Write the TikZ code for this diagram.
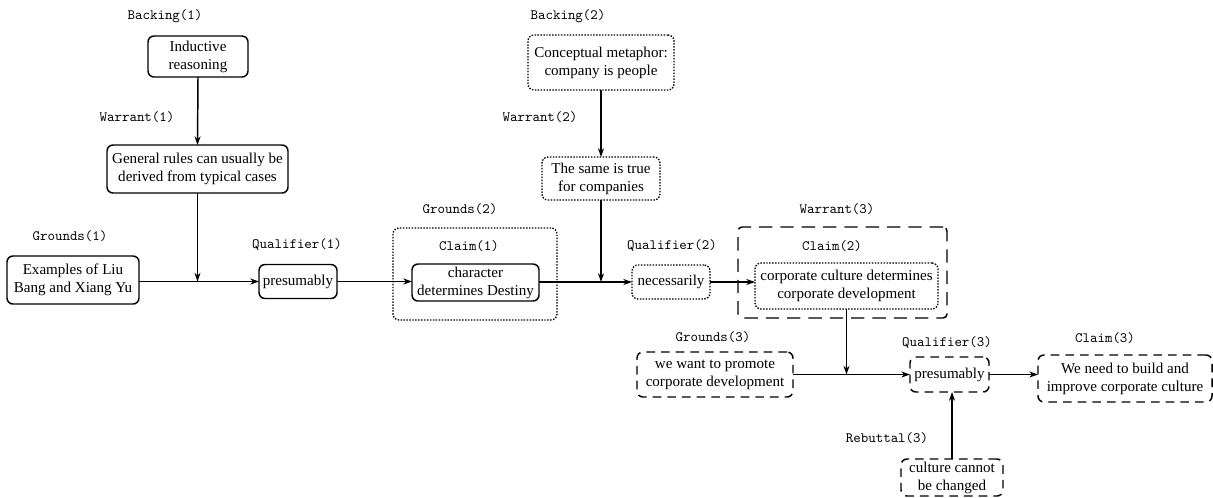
\documentclass[tikz,border=0pt]{standalone}
\usepackage{fontspec}
\setmainfont{Liberation Serif}
\usetikzlibrary{arrows.meta}
\begin{document}
\begin{tikzpicture}[x=0.75pt,y=-0.75pt,
  every node/.style={inner sep=0pt, outer sep=0pt},
  bx/.style 2 args={minimum width=#1*0.75pt, minimum height=#2*0.75pt},
  lbl/.style={font=\ttfamily\fontsize{10.7}{12}\selectfont},
  txt/.style={align=center, font=\fontsize{11.3}{13.6}\selectfont},
  solidbox/.style={txt, draw, line width=1.1pt, rounded corners=4.5pt},
  dotbox/.style={txt, draw, line width=1pt, rounded corners=4.5pt, dash pattern=on 1.1pt off 1.1pt},
  dashbox/.style={txt, draw, line width=1.1pt, rounded corners=4.5pt, dash pattern=on 6.5pt off 4.5pt},
  longdashbox/.style={draw, line width=1.1pt, rounded corners=3pt, dash pattern=on 10pt off 6pt},
  link/.style={line width=1.1pt, -{Stealth[length=6.5pt,width=4.5pt]}},
]
\useasboundingbox (0,0) rectangle (1213,497);

% ---- chain 1 ----
\node[solidbox, bx={100}{41}] (ind) at (198,56.5) {Inductive\\reasoning};
\node[solidbox, bx={181}{48}] (gen) at (197.5,169) {General rules can usually be\\derived from typical cases};
\node[solidbox, bx={132}{48}] (ex) at (73,280) {Examples of Liu\\Bang and Xiang Yu};
\node[solidbox, bx={78}{34}] (pre1) at (298,281.5) {presumably};
\node[dotbox, bx={164}{92}] (g2) at (475,274) {};
\node[solidbox, bx={127}{37}] (char) at (475.5,282.5) {character\\determines Destiny};

% ---- chain 2 ----
\node[dotbox, bx={146}{55}] (con) at (601,62.5) {Conceptual metaphor:\\company is people};
\node[dotbox, bx={118}{43}] (same) at (601,178.5) {The same is true\\for companies};
\node[dotbox, bx={78}{34}] (nec) at (671,282) {necessarily};
\node[longdashbox, bx={209}{91}] (w3) at (842.5,272.5) {};
\node[dotbox, bx={183}{46}] (cc) at (846.5,286) {corporate culture determines\\corporate development};

% ---- chain 3 ----
\node[dashbox, bx={156}{45}] (want) at (715,374.5) {we want to promote\\corporate development};
\node[dashbox, bx={79}{35}] (pre3) at (949.5,374.5) {presumably};
\node[dashbox, bx={174}{47}] (cl3) at (1125,378.5) {We need to build and\\improve corporate culture};
\node[dashbox, bx={102}{37}] (reb) at (952,477.5) {culture cannot\\be changed};

% ---- role labels ----
\node[lbl] (lbBack1) at (165,16) {Backing(1)};
\node[lbl] (lbWar1) at (137,117) {Warrant(1)};
\node[lbl] (lbGr1) at (70,236) {Grounds(1)};
\node[lbl] (lbQu1) at (297,245) {Qualifier(1)};
\node[lbl] (lbGr2) at (460,209) {Grounds(2)};
\node[lbl] (lbCl1) at (469,246) {Claim(1)};
\node[lbl] (lbBack2) at (568,16) {Backing(2)};
\node[lbl] (lbWar2) at (540,117) {Warrant(2)};
\node[lbl] (lbQu2) at (672,246) {Qualifier(2)};
\node[lbl] (lbWar3) at (837,209) {Warrant(3)};
\node[lbl] (lbCl2) at (832,246) {Claim(2)};
\node[lbl] (lbGr3) at (713,337) {Grounds(3)};
\node[lbl] (lbQu3) at (947,343) {Qualifier(3)};
\node[lbl] (lbCl3) at (1105,338) {Claim(3)};
\node[lbl] (lbReb3) at (887,438) {Rebuttal(3)};

% ---- connectors ----
\draw[link] (ind.south) -- (gen.north);
\draw[link] (ex.east |- pre1.west) -- (pre1.west);
\draw[link] (gen.south) -- (gen.south |- pre1.west);
\draw[link] (pre1.east) -- (pre1.east -| char.west);
\draw[link] (con.south) -- (same.north);
\draw[link] (char.east |- nec.west) -- (nec.west);
\draw[link] (same.south) -- (same.south |- nec.west);
\draw[link] (nec.east) -- (nec.east -| cc.west);
\draw[link] (cc.south) -- (cc.south |- want.east);
\draw[link] (want.east) -- (pre3.west);
\draw[link] (pre3.east) -- (pre3.east -| cl3.west);
\draw[link] (reb.north) -- (reb.north |- pre3.south);
\end{tikzpicture}
\end{document}
